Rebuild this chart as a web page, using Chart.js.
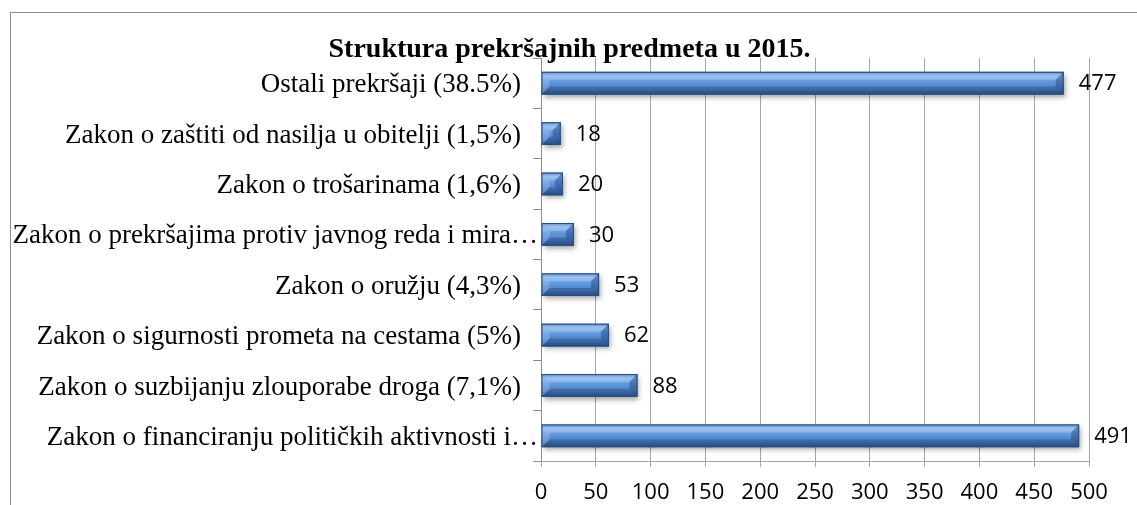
<!DOCTYPE html>
<html>
<head>
<meta charset="utf-8">
<script src="https://cdn.jsdelivr.net/npm/chart.js@4/dist/chart.umd.min.js"></script>
<style>
  html, body { margin: 0; padding: 0; background: #fff; }
  #wrap { position: relative; width: 1137px; height: 505px; }
</style>
</head>
<body>
<div id="wrap"><canvas id="prekrsajiChart" width="1137" height="505"></canvas></div>
<script>
// kategorije (od vrha prema dnu) i broj predmeta
var kategorije = [
	'Ostali prekršaji (38.5%)',
	'Zakon o zaštiti od nasilja u obitelji (1,5%)',
	'Zakon o trošarinama (1,6%)',
	'Zakon o prekršajima protiv javnog reda i mira…',
	'Zakon o oružju (4,3%)',
	'Zakon o sigurnosti prometa na cestama (5%)',
	'Zakon o suzbijanju zlouporabe droga (7,1%)',
	'Zakon o financiranju političkih aktivnosti i…'
]
var predmeti = [477, 18, 20, 30, 53, 62, 88, 491]
var xTicks = [0, 50, 100, 150, 200, 250, 300, 350, 400, 450, 500]
var naslov = 'Struktura prekršajnih predmeta u 2015.'

var numFont = { family: "'Open Sans', 'Noto Sans', sans-serif", size: 22 }
var serif = "'Liberation Serif', 'Times New Roman', serif"

// okvir i naslov (naslov centriran na cijelu širinu okvira)
var okvir = {
	id: 'okvir',
	beforeDraw: function(chart) {
		var c = chart.ctx
		c.save()
		c.strokeStyle = '#8c8c8c'
		c.lineWidth = 1
		c.strokeRect(10.5, 12.5, 1300, 700)
		c.restore()
	},
	afterDraw: function(chart) {
		var c = chart.ctx
		c.save()
		c.font = 'bold 28px ' + serif
		c.fillStyle = '#000'
		c.textAlign = 'center'
		c.textBaseline = 'alphabetic'
		c.fillText(naslov, chart.width / 2 + 1, 57)
		c.restore()
	}
}

function poly(c, pts, fill) {
	c.beginPath()
	c.moveTo(pts[0][0], pts[0][1])
	for (var i = 1; i < pts.length; i++) c.lineTo(pts[i][0], pts[i][1])
	c.closePath()
	c.fillStyle = fill
	c.fill()
}

// 3D izgled stupaca: sjena ispod, gradijent i zakošeni rubovi
var bevelBars = {
	id: 'bevelBars',
	beforeDatasetsDraw: function(chart) {
		var c = chart.ctx
		c.save()
		c.shadowColor = 'rgba(0,0,0,0.35)'
		c.shadowBlur = 5
		c.shadowOffsetX = 2
		c.shadowOffsetY = 3
	},
	afterDatasetsDraw: function(chart) {
		var c = chart.ctx
		c.restore()
		c.save()
		chart.getDatasetMeta(0).data.forEach(function(bar) {
			var p = bar.getProps(['x', 'y', 'base', 'height'], true)
			var x0 = p.base, x1 = p.x
			var top = p.y - p.height / 2, bot = p.y + p.height / 2
			var b = Math.min(8, (x1 - x0) / 2, p.height / 2.5)
			var g = c.createLinearGradient(0, top, 0, bot)
			g.addColorStop(0, '#3f70b0')
			g.addColorStop(0.18, '#80b3ee')
			g.addColorStop(0.42, '#619adf')
			g.addColorStop(0.75, '#4c80c4')
			g.addColorStop(1, '#2f5a92')
			c.fillStyle = g
			c.fillRect(x0, top, x1 - x0, bot - top)
			// zakošeni rubovi
			poly(c, [[x0, top], [x1, top], [x1 - b, top + b], [x0 + b, top + b]], 'rgba(255,255,255,0.22)')
			poly(c, [[x0, bot], [x1, bot], [x1 - b, bot - b], [x0 + b, bot - b]], 'rgba(10,30,70,0.25)')
			poly(c, [[x1, top], [x1, bot], [x1 - b, bot - b], [x1 - b, top + b]], 'rgba(10,30,80,0.32)')
			poly(c, [[x0, top], [x0, bot], [x0 + b, bot - b], [x0 + b, top + b]], 'rgba(255,255,255,0.18)')
			c.strokeStyle = '#2a4c7c'
			c.lineWidth = 1
			c.strokeRect(x0 + 0.5, top + 0.5, x1 - x0 - 1, bot - top - 1)
		})
		c.restore()
	}
}

// vrijednosti desno od stupaca
var vrijednosti = {
	id: 'vrijednosti',
	afterDatasetsDraw: function(chart) {
		var c = chart.ctx
		var ds = chart.data.datasets[0]
		c.save()
		c.font = numFont.size + 'px ' + numFont.family
		c.fillStyle = '#000'
		c.textAlign = 'left'
		c.textBaseline = 'middle'
		chart.getDatasetMeta(0).data.forEach(function(bar, i) {
			c.fillText(String(ds.data[i]), bar.x + 15, bar.y + 1)
		})
		c.restore()
	}
}

// nazivi kategorija; skraćeni nazivi idu do same osi
var naziviKategorija = {
	id: 'naziviKategorija',
	afterDraw: function(chart) {
		var c = chart.ctx
		var sc = chart.scales.y
		c.save()
		c.font = '27px ' + serif
		c.fillStyle = '#000'
		c.textAlign = 'right'
		c.textBaseline = 'middle'
		sc.ticks.forEach(function(t, i) {
			var txt = chart.data.labels[i]
			var xr = txt.slice(-1) === '…' ? sc.right - 3 : sc.right - 20
			c.fillText(txt, xr, sc.getPixelForTick(i) + 2)
		})
		c.restore()
	}
}

var ctx = document.getElementById('prekrsajiChart')
var myChart = new Chart(ctx, {
	type: 'bar',
	data: {
		labels: kategorije,
		datasets: [{
			label: 'Broj predmeta',
			data: predmeti,
			backgroundColor: '#4a7dc0',
			borderWidth: 0,
			barPercentage: 0.45,
			categoryPercentage: 1
		}]
	},
	options: {
		indexAxis: 'y',
		responsive: false,
		animation: false,
		layout: { padding: { left: 0, right: 48, top: 58, bottom: 0 } },
		plugins: {
			legend: { display: false },
			tooltip: { enabled: false },
			title: { display: false }
		},
		scales: {
			x: {
				min: 0,
				max: 500,
				afterBuildTicks: function(scale) {
					scale.ticks = xTicks.map(function(v) { return { value: v } })
				},
				afterFit: function(scale) { scale.height = 44 },
				grid: { color: '#a6a6a6', lineWidth: 1, tickLength: 6, drawTicks: true },
				border: { display: true, color: '#a6a6a6' },
				ticks: { color: '#000', font: numFont, padding: 13, maxRotation: 0 }
			},
			y: {
				afterFit: function(scale) { scale.width = 541 },
				grid: { drawOnChartArea: false, drawTicks: true, tickLength: 8, color: '#8c8c8c', offset: true },
				border: { display: true, color: '#8c8c8c' },
				ticks: { display: false, autoSkip: false }
			}
		}
	},
	plugins: [okvir, bevelBars, vrijednosti, naziviKategorija]
})
</script>
</body>
</html>
